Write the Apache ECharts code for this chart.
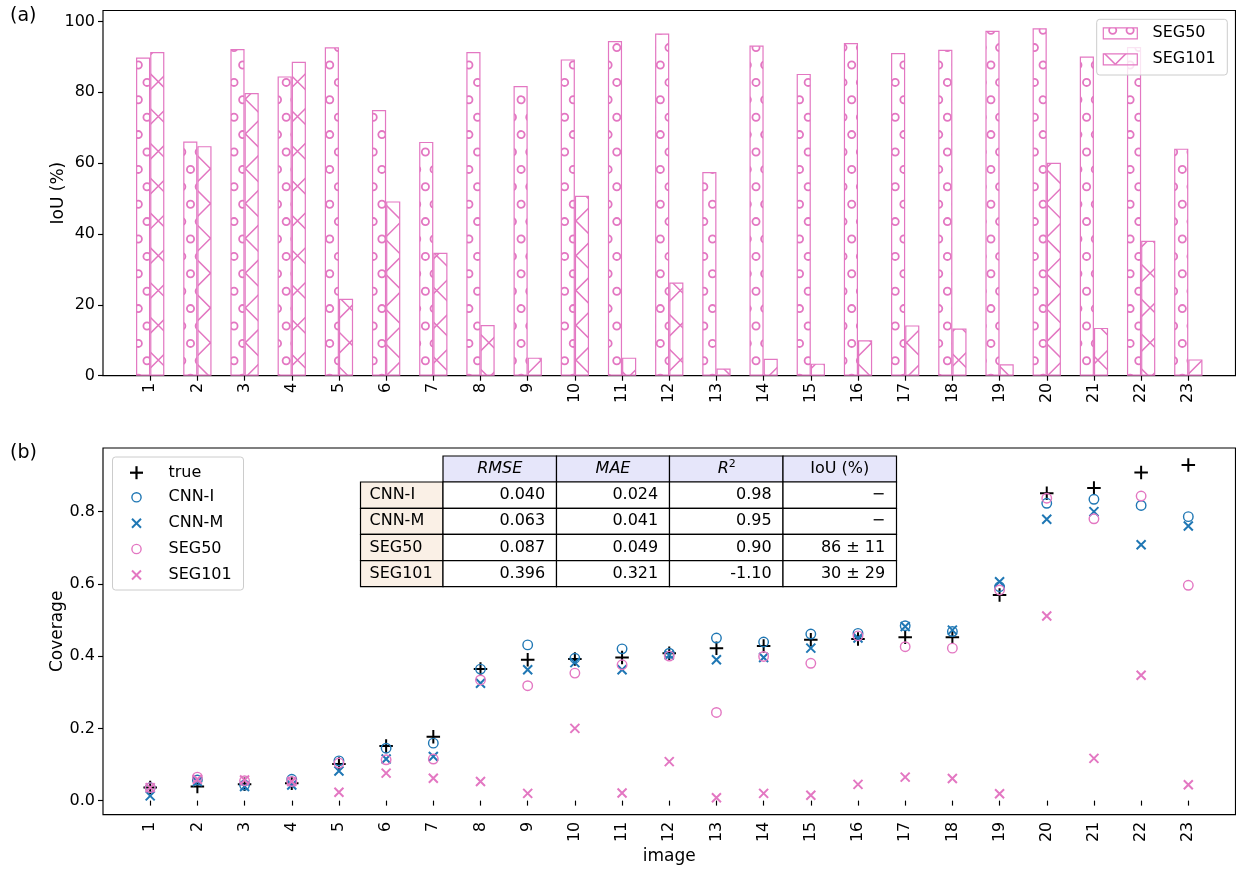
<!DOCTYPE html>
<html>
<head>
<meta charset="utf-8">
<script src="https://cdn.jsdelivr.net/npm/echarts@6/dist/echarts.min.js"></script>
<style>
  html, body { margin: 0; padding: 0; background: #ffffff; }
  #chart { width: 1236px; height: 869px; }
</style>
</head>
<body>
<div id="chart"></div>
<script>
// ---- data ----
const images = [1, 2, 3, 4, 5, 6, 7, 8, 9, 10, 11, 12, 13, 14, 15, 16, 17, 18, 19, 20, 21, 22, 23];

// (a) IoU per image (%)
const iouSeg50  = [89.8, 66.1, 92.2, 84.5, 92.7, 75.0, 66.0, 91.4, 81.8, 89.3, 94.5, 96.6, 57.5, 93.2, 85.2, 93.9, 91.1, 92.0, 97.4, 98.1, 90.1, 92.8, 64.1];
const iouSeg101 = [91.4, 64.8, 79.8, 88.6, 21.7, 49.2, 34.7, 14.3, 5.1, 50.8, 5.1, 26.3, 2.0, 4.8, 3.4, 10.0, 14.2, 13.3, 3.2, 60.1, 13.5, 38.1, 4.6];

// (b) coverage per image
const covTrue   = [0.036, 0.039, 0.045, 0.048, 0.101, 0.151, 0.177, 0.364, 0.390, 0.392, 0.396, 0.408, 0.422, 0.428, 0.445, 0.447, 0.452, 0.452, 0.569, 0.851, 0.865, 0.908, 0.929];
const covCnnI   = [0.036, 0.057, 0.043, 0.059, 0.110, 0.145, 0.159, 0.364, 0.431, 0.394, 0.420, 0.408, 0.450, 0.439, 0.461, 0.463, 0.484, 0.468, 0.592, 0.823, 0.834, 0.817, 0.786];
const covCnnM   = [0.013, 0.053, 0.039, 0.043, 0.082, 0.115, 0.122, 0.325, 0.362, 0.382, 0.362, 0.403, 0.390, 0.396, 0.422, 0.450, 0.482, 0.472, 0.606, 0.779, 0.800, 0.708, 0.760];
const covSeg50  = [0.036, 0.065, 0.055, 0.053, 0.104, 0.113, 0.115, 0.334, 0.318, 0.353, 0.376, 0.400, 0.244, 0.399, 0.380, 0.456, 0.426, 0.422, 0.583, 0.837, 0.780, 0.843, 0.596];
const covSeg101 = [0.036, 0.059, 0.057, 0.053, 0.023, 0.076, 0.062, 0.053, 0.020, 0.200, 0.021, 0.108, 0.008, 0.020, 0.015, 0.045, 0.065, 0.061, 0.019, 0.511, 0.117, 0.347, 0.044];

// tick labels
const iouTicks = [0, 20, 40, 60, 80, 100];
const covTicks = [0, 0.2, 0.4, 0.6, 0.8];

// metrics table
const tableRowNames = ['CNN-I', 'CNN-M', 'SEG50', 'SEG101'];
const rmseText = ['0.040', '0.063', '0.087', '0.396'];
const maeText  = ['0.024', '0.041', '0.049', '0.321'];
const r2Text   = ['0.98', '0.95', '0.90', '-1.10'];
const iouText  = ['\u2212', '\u2212', '86 \u00b1 11', '30 \u00b1 29'];

// ---- styling ----
const PINK = '#e377c2';
const BLUE = '#1f77b4';
const BLACK = '#000000';
const FONT = 'DejaVu Sans';
const TICK_FONT = 16;

// plot frames
const LEFT = 103, RIGHT = 0.5;
const X_MIN = 0, X_MAX = 24;
const plotWidth = 1236 - LEFT - RIGHT;
const barWidth = 0.3 * plotWidth / (X_MAX - X_MIN);

// ---- hatch fills (tile repeats every 174 px = 5 lattice periods) ----
const TILE = 174;
function hatchCanvas(lineWidth, draw) {
  const cv = document.createElement('canvas');
  cv.width = TILE; cv.height = TILE;
  const g = cv.getContext('2d');
  g.strokeStyle = PINK;
  g.lineWidth = lineWidth;
  draw(g);
  return cv;
}
// staggered small rings
const ringTile = hatchCanvas(1.8, g => {
  const step = 17.4;
  for (let r = 0; r <= 11; r++) {
    const y = -4.6 + r * step;
    const xoff = (r % 2 === 0) ? -0.9 : -0.9 + step / 2;
    for (let c = 0; c <= 11; c++) {
      const x = xoff + c * step;
      g.beginPath();
      g.arc(x, y, 3.6, 0, Math.PI * 2);
      g.stroke();
    }
  }
});
// diagonal cross lines
const crossTile = hatchCanvas(1.5, g => {
  const step = 34.8;
  g.beginPath();
  for (let k = -6; k <= 6; k++) {
    const c = 7.0 + k * step;          // x - y = c
    g.moveTo(c - 10, -10);
    g.lineTo(c + 184, 184);
  }
  for (let m = -1; m <= 11; m++) {
    const c = 31.2 + m * step;         // x + y = c
    g.moveTo(c + 10, -10);
    g.lineTo(c - 184, 184);
  }
  g.stroke();
});
const ringFill = { image: ringTile, repeat: 'repeat' };
const crossFill = { image: crossTile, repeat: 'repeat' };

// ---- marker shapes ----
const PLUS = 'path://M6,0L6,12M0,6L12,6';
const CROSS = 'path://M0,0L10,10M10,0L0,10';

function pairs(vals) { return images.map((x, i) => [x, vals[i]]); }

function xAxisFor(gridIndex, extra) {
  return Object.assign({
    type: 'value', gridIndex: gridIndex, min: X_MIN, max: X_MAX,
    axisLine: { show: false },
    splitLine: { show: false },
    axisTick: { show: true, length: 5, lineStyle: { color: BLACK, width: 1.16 }, customValues: images },
    axisLabel: { rotate: 90, margin: 7, fontSize: TICK_FONT, fontFamily: FONT, color: BLACK, customValues: images }
  }, extra || {});
}

function scatterSeries(name, vals, symbol, size, color, width) {
  return {
    type: 'scatter', name: name, xAxisIndex: 1, yAxisIndex: 1,
    data: pairs(vals), symbol: symbol, symbolSize: size, silent: true,
    itemStyle: { color: 'rgba(0,0,0,0)', borderColor: color, borderWidth: width, opacity: 1 },
    emphasis: { disabled: true }
  };
}

// ---- graphic: panel tags ----
const graphics = [];
graphics.push({ type: 'text', z: 100, style: { text: '(a)', x: 10, y: 16, font: '19px "' + FONT + '"', fill: BLACK, align: 'left', verticalAlign: 'middle' } });
graphics.push({ type: 'text', z: 100, style: { text: '(b)', x: 10, y: 453, font: '19px "' + FONT + '"', fill: BLACK, align: 'left', verticalAlign: 'middle' } });

// ---- graphic: legend of panel (a) ----
const legA = { x: 1096.7, y: 19.3, w: 130.6, h: 55.7 };
graphics.push({ type: 'rect', z: 100, shape: { x: legA.x, y: legA.y, width: legA.w, height: legA.h, r: 3 }, style: { fill: 'rgba(255,255,255,0.8)', stroke: '#cccccc', lineWidth: 1 } });
const legAItems = [
  { name: 'SEG50', fill: ringFill, cy: 33.3 },
  { name: 'SEG101', fill: crossFill, cy: 59.3 }
];
legAItems.forEach(it => {
  graphics.push({ type: 'rect', z: 101, shape: { x: 1103.3, y: it.cy - 5.5, width: 34, height: 11 }, style: { fill: it.fill, stroke: PINK, lineWidth: 1.2 } });
  graphics.push({ type: 'text', z: 101, style: { text: it.name, x: 1152.5, y: it.cy, font: '16px "' + FONT + '"', fill: BLACK, align: 'left', verticalAlign: 'middle' } });
});

// ---- graphic: legend of panel (b) ----
const legB = { x: 112.5, y: 457, w: 131, h: 133 };
graphics.push({ type: 'rect', z: 100, shape: { x: legB.x, y: legB.y, width: legB.w, height: legB.h, r: 3 }, style: { fill: 'rgba(255,255,255,0.8)', stroke: '#cccccc', lineWidth: 1 } });
const legBNames = ['true', 'CNN-I', 'CNN-M', 'SEG50', 'SEG101'];
const legBRows = [472.7, 497.3, 523.3, 549, 575];
const mx = 136.5;
function legendMarker(kind, color, cy) {
  if (kind === 'plus') {
    return { type: 'group', z: 101, children: [
      { type: 'line', z: 101, shape: { x1: mx - 6.5, y1: cy, x2: mx + 6.5, y2: cy }, style: { stroke: color, lineWidth: 2.2 } },
      { type: 'line', z: 101, shape: { x1: mx, y1: cy - 6.5, x2: mx, y2: cy + 6.5 }, style: { stroke: color, lineWidth: 2.2 } }
    ] };
  }
  if (kind === 'ring') {
    return { type: 'circle', z: 101, shape: { cx: mx, cy: cy, r: 4.6 }, style: { fill: 'none', stroke: color, lineWidth: 1.4 } };
  }
  return { type: 'group', z: 101, children: [
    { type: 'line', z: 101, shape: { x1: mx - 4.5, y1: cy - 4.5, x2: mx + 4.5, y2: cy + 4.5 }, style: { stroke: color, lineWidth: 2 } },
    { type: 'line', z: 101, shape: { x1: mx - 4.5, y1: cy + 4.5, x2: mx + 4.5, y2: cy - 4.5 }, style: { stroke: color, lineWidth: 2 } }
  ] };
}
const legBKinds = [['plus', BLACK], ['ring', BLUE], ['cross', BLUE], ['ring', PINK], ['cross', PINK]];
legBNames.forEach((n, i) => {
  graphics.push(legendMarker(legBKinds[i][0], legBKinds[i][1], legBRows[i]));
  graphics.push({ type: 'text', z: 101, style: { text: n, x: 168.5, y: legBRows[i], font: '16px "' + FONT + '"', fill: BLACK, align: 'left', verticalAlign: 'middle' } });
});

// ---- graphic: metrics table ----
const colX = [360.5, 443, 556.5, 669.5, 783, 896.5];
const rowY = [456, 482, 508.3, 534.3, 560.7, 586.7];
const HEAD_BG = '#e6e6fa', ROW_BG = '#faf0e6';
function cell(x0, y0, x1, y1, bg) {
  graphics.push({ type: 'rect', z: 100, shape: { x: x0, y: y0, width: x1 - x0, height: y1 - y0 }, style: { fill: bg, stroke: BLACK, lineWidth: 1.2 } });
}
function cellText(text, x, y, align, italic) {
  graphics.push({ type: 'text', z: 102, style: { text: text, x: x, y: y, font: (italic ? 'italic ' : '') + '16px "' + FONT + '"', fill: BLACK, align: align, verticalAlign: 'middle' } });
}
// header row
for (let c = 1; c <= 4; c++) cell(colX[c], rowY[0], colX[c + 1], rowY[1], HEAD_BG);
const hy = (rowY[0] + rowY[1]) / 2;
cellText('RMSE', (colX[1] + colX[2]) / 2, hy, 'center', true);
cellText('MAE', (colX[2] + colX[3]) / 2, hy, 'center', true);
const r2c = (colX[3] + colX[4]) / 2;
cellText('R', r2c - 3, hy, 'center', true);
graphics.push({ type: 'text', z: 102, style: { text: '2', x: r2c + 6, y: hy - 5, font: '11px "' + FONT + '"', fill: BLACK, align: 'center', verticalAlign: 'middle' } });
cellText('IoU (%)', (colX[4] + colX[5]) / 2, hy, 'center', false);
// body rows
const bodyCols = [rmseText, maeText, r2Text, iouText];
tableRowNames.forEach((nm, r) => {
  const y0 = rowY[r + 1], y1 = rowY[r + 2], cy = (y0 + y1) / 2;
  cell(colX[0], y0, colX[1], y1, ROW_BG);
  cellText(nm, colX[0] + 9, cy, 'left', false);
  bodyCols.forEach((vals, c) => {
    cell(colX[c + 1], y0, colX[c + 2], y1, '#ffffff');
    cellText(vals[r], colX[c + 2] - 11.3, cy, 'right', false);
  });
});

// ---- chart ----
const chart = echarts.init(document.getElementById('chart'), null, { renderer: 'canvas' });
const option = {
  animation: false,
  backgroundColor: '#ffffff',
  grid: [
    { left: LEFT, right: RIGHT, top: 10.5, height: 365.2, show: true, borderColor: BLACK, borderWidth: 1.16, backgroundColor: 'rgba(0,0,0,0)' },
    { left: LEFT, right: RIGHT, top: 448, height: 366.7, show: true, borderColor: BLACK, borderWidth: 1.16, backgroundColor: 'rgba(0,0,0,0)' }
  ],
  xAxis: [
    xAxisFor(0),
    xAxisFor(1, { name: 'image', nameLocation: 'middle', nameGap: 33, nameMoveOverlap: false, nameTextStyle: { fontSize: 17, fontFamily: FONT, color: BLACK } })
  ],
  yAxis: [
    {
      type: 'value', gridIndex: 0, min: 0, max: 103.1,
      name: 'IoU (%)', nameLocation: 'middle', nameRotate: 90, nameGap: 36, nameMoveOverlap: false,
      nameTextStyle: { fontSize: 17, fontFamily: FONT, color: BLACK },
      axisLine: { show: false }, splitLine: { show: false },
      axisTick: { show: true, length: 5, lineStyle: { color: BLACK, width: 1.16 }, customValues: iouTicks },
      axisLabel: { margin: 8, fontSize: TICK_FONT, fontFamily: FONT, color: BLACK, customValues: iouTicks }
    },
    {
      type: 'value', gridIndex: 1, min: -0.039, max: 0.976,
      name: 'Coverage', nameLocation: 'middle', nameRotate: 90, nameGap: 37, nameMoveOverlap: false,
      nameTextStyle: { fontSize: 17, fontFamily: FONT, color: BLACK },
      axisLine: { show: false }, splitLine: { show: false },
      axisTick: { show: true, length: 5, lineStyle: { color: BLACK, width: 1.16 }, customValues: covTicks },
      axisLabel: { margin: 8, fontSize: TICK_FONT, fontFamily: FONT, color: BLACK, customValues: covTicks, formatter: v => v.toFixed(1) }
    }
  ],
  series: [
    {
      type: 'bar', name: 'SEG50', xAxisIndex: 0, yAxisIndex: 0, data: pairs(iouSeg50),
      barWidth: barWidth, barGap: '0%', silent: true, emphasis: { disabled: true },
      itemStyle: { color: ringFill, borderColor: PINK, borderWidth: 1.2 }
    },
    {
      type: 'bar', name: 'SEG101', xAxisIndex: 0, yAxisIndex: 0, data: pairs(iouSeg101),
      barWidth: barWidth, barGap: '0%', silent: true, emphasis: { disabled: true },
      itemStyle: { color: crossFill, borderColor: PINK, borderWidth: 1.2 }
    },
    scatterSeries('true', covTrue, PLUS, 13.5, BLACK, 2),
    scatterSeries('CNN-I', covCnnI, 'circle', 9.5, BLUE, 1.4),
    scatterSeries('CNN-M', covCnnM, CROSS, 9, BLUE, 2),
    scatterSeries('SEG50', covSeg50, 'circle', 9.5, PINK, 1.4),
    scatterSeries('SEG101', covSeg101, CROSS, 9, PINK, 2)
  ],
  graphic: graphics
};
chart.setOption(option);
</script>
</body>
</html>
